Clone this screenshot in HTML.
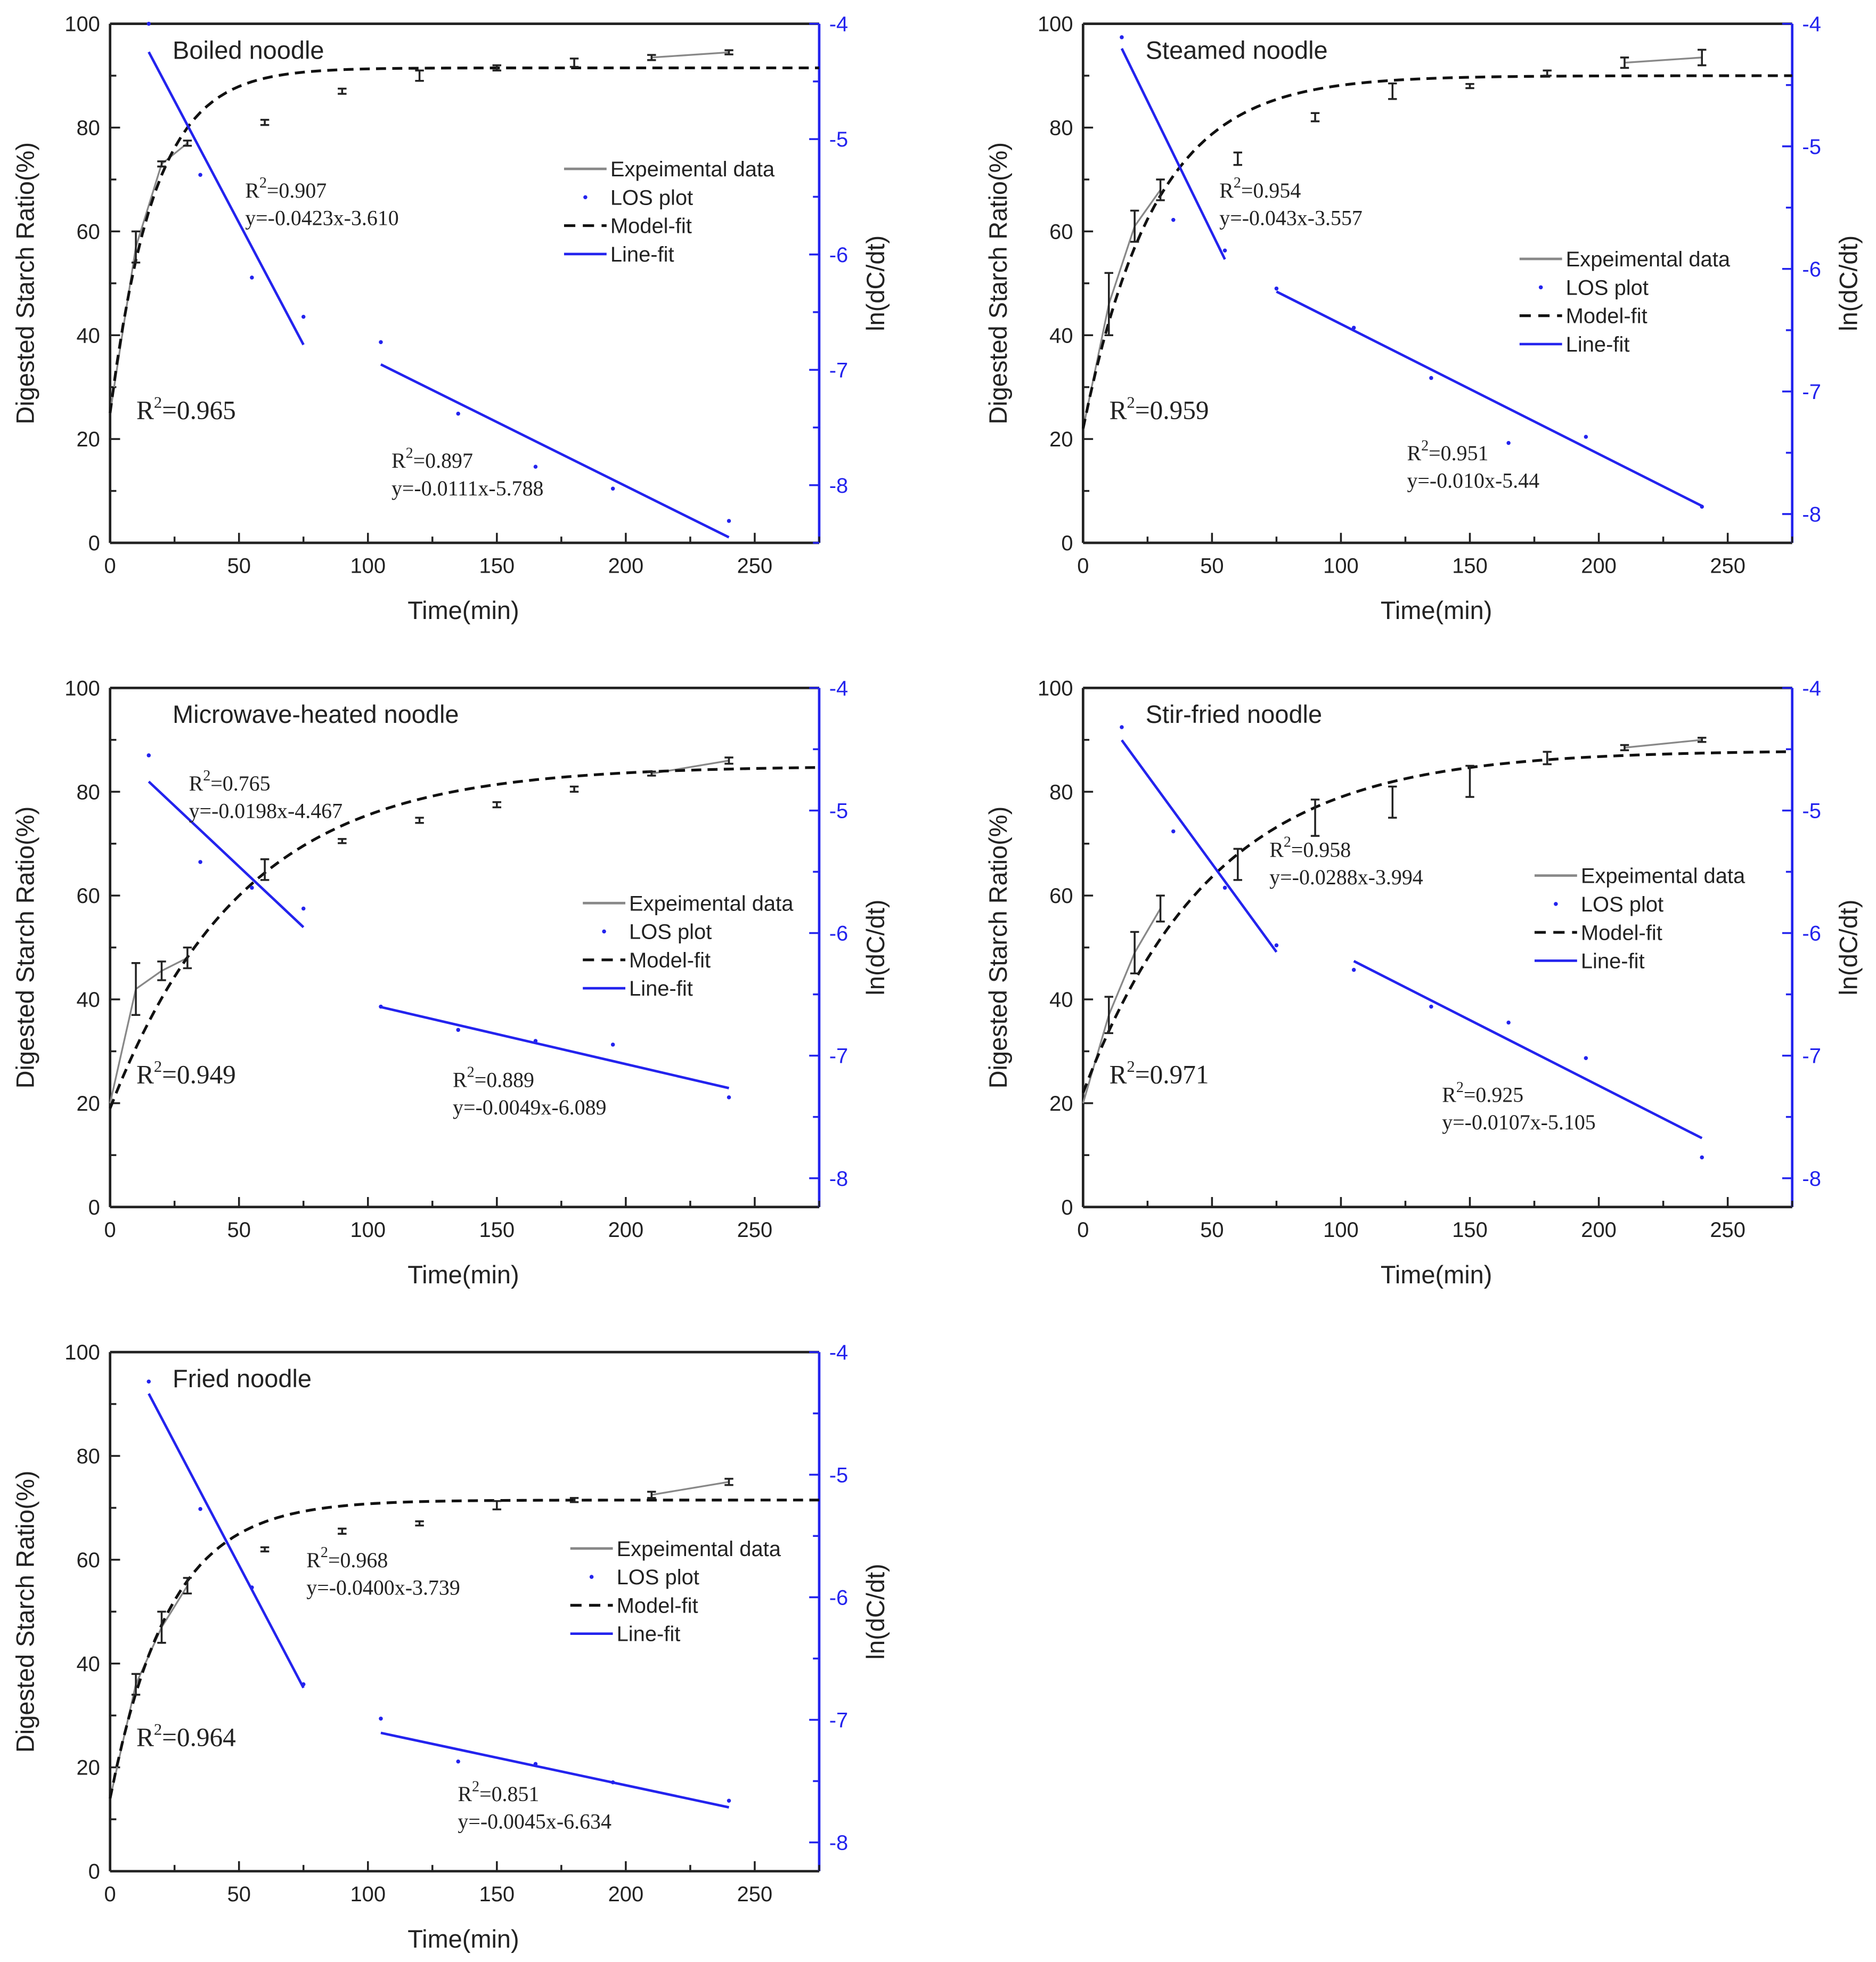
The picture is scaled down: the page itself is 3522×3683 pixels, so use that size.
<!DOCTYPE html>
<html><head><meta charset="utf-8"><style>
html,body{margin:0;padding:0;background:#fff}
svg{display:block}
text{font-family:"Liberation Sans",sans-serif}
.serif{font-family:"Liberation Serif",serif}
</style></head><body>
<svg id="fig" xmlns="http://www.w3.org/2000/svg" width="3522" height="3683" viewBox="0 0 1500 1568.6"></svg>
<script>
// ---------- data ----------
const titles = ["Boiled noodle","Steamed noodle","Microwave-heated noodle","Stir-fried noodle","Fried noodle"];
const expTimes = [0,10,20,30,60,90,120,150,180,210,240];
const expBoiled  = [25,57,73,77,81,87,90,91.5,92.5,93.5,94.5];
const errBoiled  = [0,3,0.5,0.5,0.5,0.5,1,0.5,0.8,0.5,0.3];
const expSteamed = [22,46,61,68,74,82,87,88,90.5,92.5,93.5];
const errSteamed = [0,6,3,2,1.2,0.8,1.5,0.3,0.5,1,1.5];
const expMicro   = [20,42,45.5,48,65,70.5,74.5,77.5,80.5,83.5,86];
const errMicro   = [0,5,1.8,2,2,0.3,0.5,0.5,0.5,0.3,0.6];
const expStir    = [20,37,49,57.5,66,75,78,82,86.5,88.5,90];
const errStir    = [0,3.5,4,2.5,3,3.5,3,3,1.2,0.5,0.3];
const expFried   = [14,36,47,55,62,65.5,67,70.5,71.5,72.5,75];
const errFried   = [0,2,3,1.5,0.3,0.5,0.3,0.8,0.3,0.6,0.6];
const losTimes = [15,35,55,75,105,135,165,195,240];
const losBoiled  = [-4.0,-5.31,-6.2,-6.54,-6.76,-7.38,-7.84,-8.03,-8.31];
const losSteamed = [-4.11,-5.6,-5.85,-6.16,-6.48,-6.89,-7.42,-7.37,-7.94];
const losMicro   = [-4.55,-5.42,-5.63,-5.8,-6.6,-6.79,-6.88,-6.91,-7.34];
const losStir    = [-4.32,-5.17,-5.63,-6.1,-6.3,-6.6,-6.73,-7.02,-7.83];
const losFried   = [-4.24,-5.28,-5.92,-6.71,-6.99,-7.34,-7.36,-7.51,-7.66];
const modelC0   = [25,22,19,22,14];
const modelCinf = [91.5,90,85,88,71.5];
const modelK    = [0.0585,0.036,0.0194,0.0199,0.0436];
const fit1Slope = [-0.0423,-0.043,-0.0198,-0.0288,-0.0400];
const fit1Int   = [-3.610,-3.557,-4.467,-3.994,-3.739];
const fit1Range = [[15,75],[15,55],[15,75],[15,75],[15,75]];
const fit2Slope = [-0.0111,-0.0106,-0.0049,-0.0107,-0.0045];
const fit2Int   = [-5.788,-5.39,-6.089,-5.105,-6.634];
const fit2Range = [[105,240],[75,240],[105,240],[105,240],[105,240]];
const eq1Text = [["0.907","y=-0.0423x-3.610"],["0.954","y=-0.043x-3.557"],["0.765","y=-0.0198x-4.467"],["0.958","y=-0.0288x-3.994"],["0.968","y=-0.0400x-3.739"]];
const eq2Text = [["0.897","y=-0.0111x-5.788"],["0.951","y=-0.010x-5.44"],["0.889","y=-0.0049x-6.089"],["0.925","y=-0.0107x-5.105"],["0.851","y=-0.0045x-6.634"]];
const modelR2 = ["0.965","0.959","0.949","0.971","0.964"];
const xTicks = [0,50,100,150,200,250];
const yTicks = [0,20,40,60,80,100];
const rTicks = [-4,-5,-6,-7,-8];
const legendLabels = ["Expeimental data","LOS plot","Model-fit","Line-fit"];

const expAll=[expBoiled,expSteamed,expMicro,expStir,expFried];
const errAll=[errBoiled,errSteamed,errMicro,errStir,errFried];
const losAll=[losBoiled,losSteamed,losMicro,losStir,losFried];
// layout (not data)
const panels=[{l:88,t:19,rmin:-8.5},{l:866,t:19,rmin:-8.235},{l:88,t:550,rmin:-8.235},{l:866,t:550,rmin:-8.235},{l:88,t:1081,rmin:-8.235}];
const eq1Pos=[[196,158],[975,158],[151,632],[1015,685],[245,1253]];
const eq2Pos=[[313,374],[1125,368],[362,869],[1153,881],[366,1440]];
const r2Pos=[[109,328],[887,328],[109,859],[887,859],[109,1389]];
const legPos=[[451,135],[1215,207],[466,722],[1227,700],[456,1238]];
const W=567,H=415,BLUE="#2323ee";
const svg=document.getElementById('fig');
const NS="http://www.w3.org/2000/svg";
function mk(tag,attrs,parent,txt){const e=document.createElementNS(NS,tag);for(const k in attrs)e.setAttribute(k,attrs[k]);if(txt!==undefined)e.textContent=txt;(parent||svg).appendChild(e);return e;}

panels.forEach((p,i)=>{
  const g=mk('g',{});
  
  
  const X=t=>p.l+t/275*W;
  const Y=v=>p.t+H-v/100*H;
  const R=v=>p.t+(-4-v)/(-4-p.rmin)*H;
  const fr=mk('g',{},g);
  
  
  mk('line',{x1:p.l,y1:p.t,x2:p.l+W,y2:p.t,stroke:'#222','stroke-width':2},fr);
  mk('line',{x1:p.l,y1:p.t+H,x2:p.l+W,y2:p.t+H,stroke:'#222','stroke-width':2},fr);
  mk('line',{x1:p.l,y1:p.t,x2:p.l,y2:p.t+H,stroke:'#222','stroke-width':2},fr);
  mk('line',{x1:p.l+W,y1:p.t,x2:p.l+W,y2:p.t+H,stroke:BLUE,'stroke-width':2},fr);
  for(let t=0;t<=275;t+=25){const maj=t%50===0;mk('line',{x1:X(t),y1:p.t+H,x2:X(t),y2:p.t+H-(maj?8:5),stroke:'#222','stroke-width':1.5},fr);}
  xTicks.forEach(t=>{const e=mk('text',{x:X(t),y:p.t+H+24,'font-size':17,'text-anchor':'middle',fill:'#222'},g,t);
    
    });
  for(let v=0;v<=100;v+=10){mk('line',{x1:p.l,y1:Y(v),x2:p.l+(v%20===0?8:5),y2:Y(v),stroke:'#222','stroke-width':1.5},fr);}
  yTicks.forEach(v=>{const e=mk('text',{x:p.l-8,y:Y(v)+6,'font-size':17,'text-anchor':'end',fill:'#222'},g,v);
    
    });
  for(let v=-4;v>=p.rmin;v-=0.5){mk('line',{x1:p.l+W,y1:R(v),x2:p.l+W-(Number.isInteger(v)?8:5),y2:R(v),stroke:BLUE,'stroke-width':1.5},fr);}
  rTicks.forEach(v=>{const e=mk('text',{x:p.l+W+8,y:R(v)+6,'font-size':17,fill:BLUE},g,v);
    
    });
  const yl=mk('text',{x:0,y:0,'font-size':20,'text-anchor':'middle',fill:'#222',transform:`translate(${p.l-61},${p.t+H/2}) rotate(-90)`},g,'Digested Starch Ratio(%)');
  
  
  const rl=mk('text',{x:0,y:0,'font-size':20,'text-anchor':'middle',fill:'#222',transform:`translate(${p.l+W+52},${p.t+H/2}) rotate(-90)`},g,'ln(dC/dt)');
  
  
  const xl=mk('text',{x:p.l+W/2-1,y:p.t+H+61,'font-size':20,'text-anchor':'middle',fill:'#222'},g,'Time(min)');
  
  
  const ti=mk('text',{x:p.l+50,y:p.t+28,'font-size':20,fill:'#222'},g,titles[i]);
  
  
  const ex=expAll[i],er=errAll[i];
  const early=expTimes.map((t,j)=>[t,ex[j]]).filter(d=>d[0]<=30).map(d=>X(d[0])+','+Y(d[1])).join(' ');
  const late=expTimes.map((t,j)=>[t,ex[j]]).filter(d=>d[0]>=210).map(d=>X(d[0])+','+Y(d[1])).join(' ');
  [early,late].forEach(pts=>{const pl=mk('polyline',{points:pts,fill:'none',stroke:'#888','stroke-width':1.4},g);
    
    });
  let d='';for(let t=0;t<=275;t+=2.5){const v=modelC0[i]+(modelCinf[i]-modelC0[i])*(1-Math.exp(-modelK[i]*t));d+=(t===0?'M':'L')+X(t)+','+Y(v);}
  const mc=mk('path',{d:d,fill:'none',stroke:'#111','stroke-width':2.2,'stroke-dasharray':'8,5'},g);
  
  
  expTimes.forEach((t,j)=>{if(t===0)return;const e=Math.max(er[j],0.4);const x=X(t);
    const eb=mk('g',{},g);
    
    
    mk('line',{x1:x,y1:Y(ex[j]+e),x2:x,y2:Y(ex[j]-e),stroke:'#222','stroke-width':1.5},eb);
    mk('line',{x1:x-3.5,y1:Y(ex[j]+e),x2:x+3.5,y2:Y(ex[j]+e),stroke:'#222','stroke-width':1.5},eb);
    mk('line',{x1:x-3.5,y1:Y(ex[j]-e),x2:x+3.5,y2:Y(ex[j]-e),stroke:'#222','stroke-width':1.5},eb);});
  losTimes.forEach((t,j)=>{const c=mk('circle',{cx:X(t),cy:R(losAll[i][j]),r:1.6,fill:BLUE},g);
    
    });
  [[fit1Slope,fit1Int,fit1Range],[fit2Slope,fit2Int,fit2Range]].forEach(([s,b,r])=>{
    const [a,z]=r[i];const ln=mk('line',{x1:X(a),y1:R(s[i]*a+b[i]),x2:X(z),y2:R(s[i]*z+b[i]),stroke:BLUE,'stroke-width':2},g);
    
    });
  [[eq1Text,eq1Pos],[eq2Text,eq2Pos]].forEach(([tx,ps])=>{const [x,y]=ps[i];
    const a=mk('text',{x:x,y:y,'font-size':17,fill:'#222',class:'serif'},g);
    
    
    a.appendChild(document.createTextNode('R'));mk('tspan',{dy:-8,'font-size':12},a,'2');mk('tspan',{dy:8},a,'='+tx[i][0]);
    const b=mk('text',{x:x,y:y+22,'font-size':17,fill:'#222',class:'serif'},g,tx[i][1]);
    
    });
  const r2=mk('text',{x:r2Pos[i][0],y:r2Pos[i][1]+7,'font-size':21,fill:'#222',class:'serif'},g);
  
  
  r2.appendChild(document.createTextNode('R'));mk('tspan',{dy:-9,'font-size':13},r2,'2');mk('tspan',{dy:9},r2,'='+modelR2[i]);
  const [lx,ly]=legPos[i];
  const lg=mk('g',{},g);
  
  
  legendLabels.forEach((lab,k)=>{const y=ly+k*22.7;
    if(k===0)mk('line',{x1:lx,y1:y,x2:lx+34,y2:y,stroke:'#888','stroke-width':2},lg);
    if(k===1)mk('circle',{cx:lx+17,cy:y,r:1.6,fill:BLUE},lg);
    if(k===2)mk('line',{x1:lx,y1:y,x2:lx+34,y2:y,stroke:'#111','stroke-width':2.2,'stroke-dasharray':'9,6'},lg);
    if(k===3)mk('line',{x1:lx,y1:y,x2:lx+34,y2:y,stroke:BLUE,'stroke-width':2},lg);
    const e=mk('text',{x:lx+37,y:y+6,'font-size':17,fill:'#222'},lg,lab);
    
    });
});
</script>
</body></html>
